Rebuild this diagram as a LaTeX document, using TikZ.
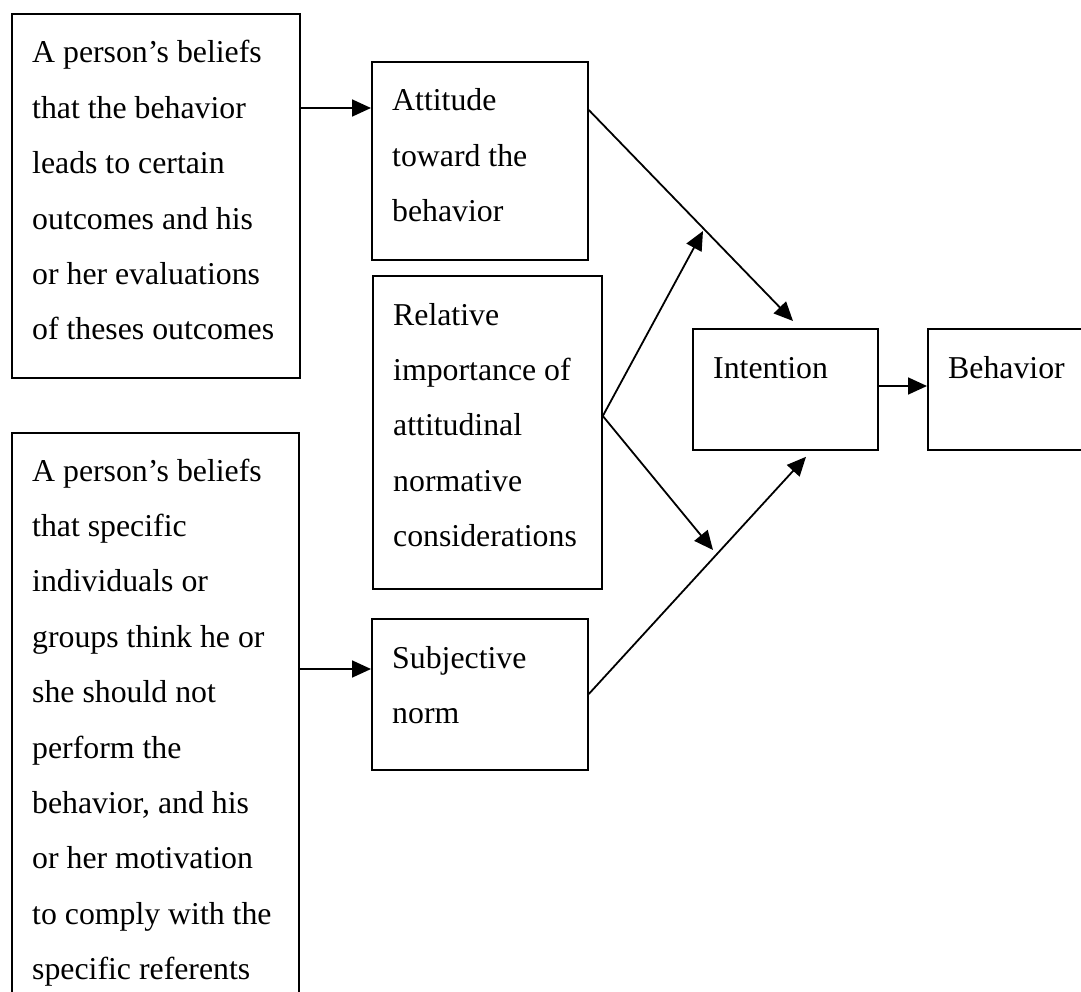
\documentclass[tikz,border=0pt]{standalone}
\usepackage{fontspec}
\setmainfont{Liberation Serif}
\usetikzlibrary{arrows.meta}
% multi-line box text: baseline of the node = baseline of the first line
\newcommand{\boxlines}[1]{\parbox[t]{300pt}{\fontsize{31.8pt}{55.4pt}\selectfont #1}}
\begin{document}
\begin{tikzpicture}[x=1pt,y=-1pt,
  box/.style={draw, line width=1.8pt, rectangle, inner sep=0pt, anchor=north west},
  txt/.style={anchor=base west, inner sep=0pt, font=\fontsize{31.8pt}{55.4pt}\selectfont},
  arr/.style={line width=1.8pt, -{Triangle[length=19pt,width=17pt]}}]
\useasboundingbox (0,0) rectangle (1081,992);
\clip (0,0) rectangle (1081,992);

% frames
\node[box, minimum width=288pt, minimum height=364pt] (A) at (11,13) {};
\node[box, minimum width=216pt, minimum height=198pt] (B) at (371,61) {};
\node[box, minimum width=229pt, minimum height=313pt] (C) at (372,275) {};
\node[box, minimum width=185pt, minimum height=121pt] (D) at (692,328) {};
\node[box, minimum width=190pt, minimum height=121pt] (E) at (927,328) {};
\node[box, minimum width=287pt, minimum height=600pt] (P) at (11,432) {};
\node[box, minimum width=216pt, minimum height=151pt] (F) at (371,618) {};

% texts
\node[txt] (tA) at (32,63) {\boxlines{A person’s beliefs\\that the behavior\\leads to certain\\outcomes and his\\or her evaluations\\of theses outcomes}};
\node[txt] (tB) at (392,111) {\boxlines{Attitude\\toward the\\behavior}};
\node[txt] (tC) at (393,325) {\boxlines{Relative\\importance of\\attitudinal\\normative\\considerations}};
\node[txt] (tD) at (713,378) {Intention};
\node[txt] (tE) at (948,378) {Behavior};
\node[txt] (tP) at (32,481) {\boxlines{A person’s beliefs\\that specific\\individuals or\\groups think he or\\she should not\\perform the\\behavior, and his\\or her motivation\\to comply with the\\specific referents}};
\node[txt] (tF) at (392,668) {\boxlines{Subjective\\norm}};

% points where the weighting arrows meet the other connectors
\coordinate (m1) at (703,231);
\coordinate (m2) at (713,550);

% connectors
\draw[arr] ([yshift=-95pt]A.north east) -- ([yshift=-47pt]B.north west);
\draw[arr] ([yshift=-237pt]P.north east) -- ([yshift=-51pt]F.north west);
\draw[arr] ([yshift=-49pt]B.north east) -- ([xshift=101pt,yshift=7pt]D.north west);
\draw[arr] ([yshift=-76pt]F.north east) -- ([xshift=114pt,yshift=-6pt]D.south west);
\draw[arr] ([yshift=-141pt]C.north east) -- (m1);
\draw[arr] ([yshift=-141pt]C.north east) -- (m2);
\draw[arr] ([yshift=-58pt]D.north east) -- ([yshift=-58pt]E.north west);
\end{tikzpicture}
\end{document}
